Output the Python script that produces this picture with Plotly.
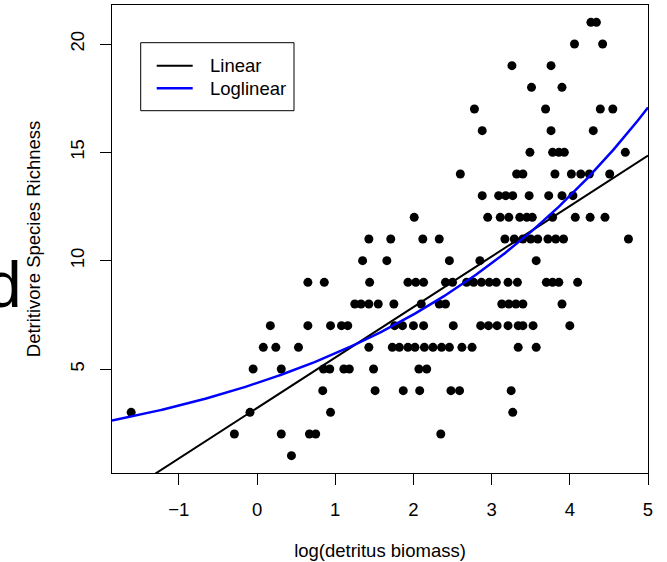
import numpy as np
import plotly.graph_objects as go

# Observations: log(detritus biomass) vs detritivore species richness
log_detritus = [
    0.44,
    -0.29, 0.31, 0.67, 0.75, 2.35,
    -1.61, -0.09, 0.94, 3.27,
    0.84, 1.51, 1.87, 2.08, 2.48, 2.59, 3.25,
    -0.05, 0.31, 0.85, 0.93, 1.11, 1.18, 1.49, 2.07, 2.17,
    0.08, 0.24, 0.53, 1.43, 1.73, 1.82, 1.93, 2.02, 2.14, 2.25, 2.36, 2.46, 2.62, 2.75, 3.34, 3.57,
    0.17, 0.65, 0.94, 1.08, 1.16, 1.76, 1.86, 2.00, 2.13, 2.51, 2.86, 2.96, 3.07, 3.21, 3.34, 3.40, 3.53, 4.00,
    1.25, 1.33, 1.43, 1.55, 1.75, 2.10, 2.33, 2.41, 3.13, 3.22, 3.31, 3.40, 3.90,
    0.65, 0.86, 1.44, 1.93, 2.03, 2.13, 2.41, 2.50, 2.68, 2.77, 2.87, 2.97, 3.06, 3.21, 3.33, 3.70, 3.78, 3.86, 4.10,
    1.35, 1.66, 2.46, 2.85, 3.57,
    1.43, 1.71, 2.12, 2.33, 3.17, 3.29, 3.40, 3.50, 3.59, 3.72, 3.82, 3.92, 4.75,
    2.01, 2.95, 3.11, 3.22, 3.36, 3.45, 3.52, 3.78, 4.07, 4.26, 4.45,
    2.88, 3.09, 3.18, 3.27, 3.48, 3.73, 3.90, 4.04,
    2.60, 3.32, 3.40, 3.81, 4.02, 4.14, 4.25, 4.51,
    3.49, 3.78, 3.86, 3.93, 4.71,
    2.88, 3.76, 4.30,
    2.78, 3.69, 4.39, 4.55,
    3.51, 3.90,
    3.26, 3.76,
    4.06, 4.42,
    4.27, 4.34,
]
richness = (
    [1] * 1 + [2] * 5 + [3] * 4 + [4] * 7 + [5] * 9 + [6] * 16 + [7] * 18
    + [8] * 13 + [9] * 19 + [10] * 5 + [11] * 13 + [12] * 11 + [13] * 8
    + [14] * 8 + [15] * 5 + [16] * 3 + [17] * 4 + [18] * 2 + [19] * 2
    + [20] * 2 + [21] * 2
)

# Fitted model coefficients
linear_coef = [3.2, 2.33]        # intercept, slope
loglinear_coef = [1.47, 0.2734]  # log-scale intercept, slope

model_names = ["Linear", "Loglinear"]
model_colors = ["black", "#0000FF"]
model_widths = [2, 2.5]

x_range = [-1.855, 5.0]
y_range = [0.2, 21.8]
x_ticks = [-1, 0, 1, 2, 3, 4, 5]
y_ticks = [5, 10, 15, 20]

xs = np.linspace(x_range[0], x_range[1], 300)
lin_y = linear_coef[0] + linear_coef[1] * xs
loglin_y = np.exp(loglinear_coef[0] + loglinear_coef[1] * xs)

FONT = "Liberation Sans, Arial, Helvetica, sans-serif"
FS = 18.5

# plot area in pixels (for placing the in-plot legend box)
L, R, T, B = 112, 648, 5, 473
def px(xp):
    return (xp - L) / (R - L)
def py(yp):
    return (B - yp) / (B - T)

fig = go.Figure()
fig.add_trace(go.Scatter(
    x=log_detritus, y=richness, mode="markers",
    marker=dict(color="black", size=9, line=dict(width=0)),
    showlegend=False,
))
for yy, nm, col, w in zip([lin_y, loglin_y], model_names, model_colors, model_widths):
    fig.add_trace(go.Scatter(
        x=xs, y=yy, mode="lines", name=nm,
        line=dict(color=col, width=w), showlegend=False,
    ))

# legend drawn as box + samples + labels
shapes = [dict(type="rect", xref="paper", yref="paper",
               x0=px(140.7), x1=px(294), y0=py(110.7), y1=py(42.7),
               line=dict(color="black", width=1), fillcolor="white", layer="above")]
annotations = []
for i, (nm, col, w) in enumerate(zip(model_names, model_colors, model_widths)):
    yl = 65.7 + i * 22.6
    shapes.append(dict(type="line", xref="paper", yref="paper",
                       x0=px(156.7), x1=px(192.7), y0=py(yl), y1=py(yl),
                       line=dict(color=col, width=w), layer="above"))
    annotations.append(dict(text=nm, xref="paper", yref="paper",
                            x=px(208), y=py(yl), xanchor="left", yanchor="middle",
                            showarrow=False, font=dict(size=FS, family=FONT, color="black")))

annotations.append(dict(
    text="d", xref="paper", yref="paper",
    x=-112 / 536 - 0.03, y=(473 - 285) / 468,
    xanchor="left", yanchor="middle", showarrow=False,
    font=dict(size=64, family=FONT, color="black"),
))

fig.update_layout(
    width=667, height=562,
    margin=dict(l=L, r=667 - R, t=T, b=562 - B),
    paper_bgcolor="white", plot_bgcolor="white",
    font=dict(family=FONT, size=FS, color="black"),
    showlegend=False,
    shapes=shapes,
    annotations=annotations,
    xaxis=dict(
        range=x_range, tickvals=x_ticks, showgrid=False, zeroline=False,
        showline=True, mirror=True, linecolor="black", linewidth=1,
        ticks="outside", ticklen=11, tickcolor="black", tickwidth=1,
        tickfont=dict(size=FS, family=FONT),
        ticklabelstandoff=9,
        title=dict(text="log(detritus biomass)", standoff=24,
                   font=dict(size=FS, family=FONT)),
    ),
    yaxis=dict(
        range=y_range, tickvals=y_ticks, showgrid=False, zeroline=False,
        showline=True, mirror=True, linecolor="black", linewidth=1,
        ticks="outside", ticklen=11, tickcolor="black", tickwidth=1,
        tickangle=-90, tickfont=dict(size=FS, family=FONT),
        ticklabelstandoff=9,
        title=dict(text="Detritivore Species Richness", standoff=21,
                   font=dict(size=FS, family=FONT)),
    ),
)

fig.write_html("out.html")
